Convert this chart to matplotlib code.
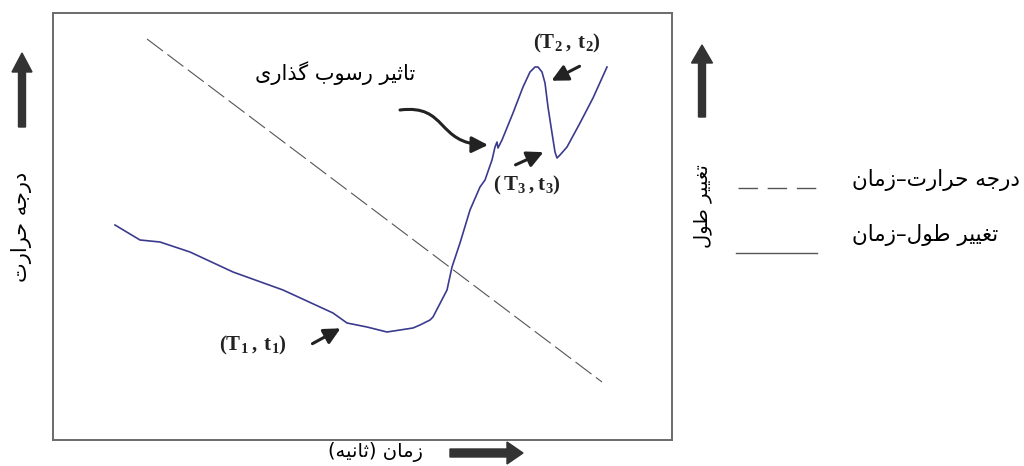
import matplotlib
matplotlib.use("Agg")
import matplotlib.pyplot as plt
from matplotlib.patches import FancyArrowPatch, FancyArrow
from matplotlib.path import Path
from matplotlib.transforms import IdentityTransform
from matplotlib.lines import Line2D

# داده‌ها (واحدها: پیکسل داخل کادر نمودار)
length_time = [62, 87, 107, 137, 180, 230, 280, 294, 314, 334, 360, 367, 377, 380,
               394, 399, 407, 417, 427, 432, 439, 442, 444, 445, 449, 460, 470, 477,
               482, 485, 489, 492, 495, 499, 502, 504, 507, 514, 527, 540, 554]
length_change = [215, 200, 198, 188, 168, 150, 127, 117, 113, 108, 112, 115, 120, 123,
                 150, 173, 197, 230, 253, 260, 280, 293, 298, 292, 300, 327, 353, 368,
                 373, 373, 368, 357, 333, 307, 288, 282, 285, 293, 317, 342, 373]
temp_time = [94, 549]
temp_value = [401, 58]

label_temp = "درجه حرارت"
label_length = "تغییر طول"
label_time = "زمان (ثانیه)"
label_deposit = "تاثیر رسوب گذاری"
legend_labels = ["درجه حرارت–زمان", "تغییر طول–زمان"]

# شکل‌دهی ساده حروف فارسی (matplotlib خودش حروف را نمی‌چسباند)
FORMS = {
    'ا': ('\uFE8D', '\uFE8E', None, None),
    'ب': ('\uFE8F', '\uFE90', '\uFE91', '\uFE92'),
    'ت': ('\uFE95', '\uFE96', '\uFE97', '\uFE98'),
    'ث': ('\uFE99', '\uFE9A', '\uFE9B', '\uFE9C'),
    'ج': ('\uFE9D', '\uFE9E', '\uFE9F', '\uFEA0'),
    'ح': ('\uFEA1', '\uFEA2', '\uFEA3', '\uFEA4'),
    'د': ('\uFEA9', '\uFEAA', None, None),
    'ذ': ('\uFEAB', '\uFEAC', None, None),
    'ر': ('\uFEAD', '\uFEAE', None, None),
    'ز': ('\uFEAF', '\uFEB0', None, None),
    'س': ('\uFEB1', '\uFEB2', '\uFEB3', '\uFEB4'),
    'ط': ('\uFEC1', '\uFEC2', '\uFEC3', '\uFEC4'),
    'غ': ('\uFECD', '\uFECE', '\uFECF', '\uFED0'),
    'ل': ('\uFEDD', '\uFEDE', '\uFEDF', '\uFEE0'),
    'م': ('\uFEE1', '\uFEE2', '\uFEE3', '\uFEE4'),
    'ن': ('\uFEE5', '\uFEE6', '\uFEE7', '\uFEE8'),
    'ه': ('\uFEE9', '\uFEEA', '\uFEEB', '\uFEEC'),
    'و': ('\uFEED', '\uFEEE', None, None),
    'ی': ('\uFBFC', '\uFBFD', '\uFBFE', '\uFBFF'),
    'گ': ('\uFB92', '\uFB93', '\uFB94', '\uFB95'),
}


def fa(text):
    out = []
    for i, ch in enumerate(text):
        if ch not in FORMS:
            out.append(ch)
            continue
        prev = text[i - 1] if i > 0 else ''
        nxt = text[i + 1] if i + 1 < len(text) else ''
        join_prev = prev in FORMS and FORMS[prev][2] is not None
        join_next = FORMS[ch][2] is not None and nxt in FORMS
        iso, fin, ini, med = FORMS[ch]
        if join_prev and join_next:
            out.append(med)
        elif join_prev:
            out.append(fin)
        elif join_next:
            out.append(ini)
        else:
            out.append(iso)
    s = ''.join(reversed(out))
    return s.translate(str.maketrans('()', ')('))


plt.rcParams['mathtext.fontset'] = 'custom'
plt.rcParams['mathtext.rm'] = 'Liberation Serif'
plt.rcParams['mathtext.bf'] = 'Liberation Serif:bold'

W, H = 1024, 466
fig = plt.figure(figsize=(W / 100, H / 100), dpi=100)
ax = fig.add_axes([53 / W, 1 - 440 / H, 619 / W, 427 / H])
ax.set_xlim(0, 619)
ax.set_ylim(0, 427)
ax.set_xticks([])
ax.set_yticks([])
for sp in ax.spines.values():
    sp.set_color('#6a6a6a')
    sp.set_linewidth(1.4)

ax.plot(length_time, length_change, color='#3b3b8e', lw=1.2)
ax.plot(temp_time, temp_value, color='#555555', lw=0.8, dashes=(18, 5))

ident = IdentityTransform()


def px(x, y):
    return (x, H - y)


arab = ['DejaVu Sans']
kw = dict(transform=ident, family=arab, color='black')

# برچسب‌های محورها
fig.text(*px(22, 227), fa(label_temp), rotation=90, ha='center', va='center', fontsize=15, **kw)
fig.text(*px(702, 206), fa(label_length), rotation=90, ha='center', va='center', fontsize=14, **kw)
fig.text(*px(375, 452), fa(label_time), ha='center', va='center', fontsize=14, **kw)
fig.text(*px(335, 73), fa(label_deposit), ha='center', va='center', fontsize=15, **kw)

# فلش‌های بزرگ محورها
big = dict(color='#333333', length_includes_head=True, transform=ident)
fig.add_artist(FancyArrow(*px(22, 127), 0, 74, width=7, head_width=20, head_length=19, **big))
fig.add_artist(FancyArrow(*px(702, 117), 0, 72, width=7, head_width=21, head_length=18, **big))
fig.add_artist(FancyArrow(*px(450, 453), 73, 0, width=8, head_width=22, head_length=16, **big))

# نقاط مشخص
pt = dict(transform=ident, ha='center', va='center', fontsize=15, color='#222222')
fig.text(*px(567, 43), r'$\mathbf{(T_2\,,\,t_2)}$', **pt)
fig.text(*px(527, 185), r'$\mathbf{(\,T_3\,,t_3)}$', **pt)
fig.text(*px(253, 345), r'$\mathbf{(T_1\,,\,t_1)}$', **pt)

arr = dict(arrowstyle='-|>,head_length=0.7,head_width=0.35', mutation_scale=14,
           lw=2.2, color='#222222', transform=ident)
fig.add_artist(FancyArrowPatch(px(582, 65), px(549, 82), **arr))
fig.add_artist(FancyArrowPatch(px(513, 166), px(546, 151), **arr))
fig.add_artist(FancyArrowPatch(px(310, 345), px(343, 327), **arr))

curve = Path([px(400, 110), px(448, 104), px(436, 144), px(488, 145)],
             [Path.MOVETO, Path.CURVE4, Path.CURVE4, Path.CURVE4])
fig.add_artist(FancyArrowPatch(path=curve, **arr))

# راهنما
fig.add_artist(Line2D([738, 817], [H - 188, H - 188], transform=ident, color='#555555',
                      lw=1.0, dashes=(14, 7)))
fig.add_artist(Line2D([736, 817], [H - 253, H - 253], transform=ident, color='#555555', lw=1.0))
fig.text(*px(852, 180), fa(legend_labels[0]), ha='left', va='center', fontsize=15.5, **kw)
fig.text(*px(852, 235), fa(legend_labels[1]), ha='left', va='center', fontsize=15.5, **kw)

fig.savefig('out.png', dpi=100)
